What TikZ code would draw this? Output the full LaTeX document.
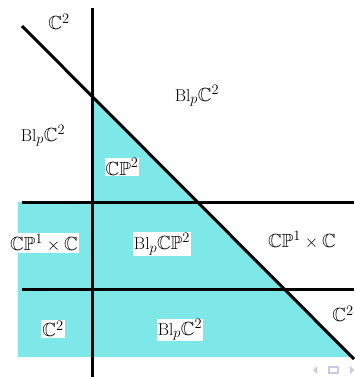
\documentclass[tikz,border=0pt]{standalone}
\usepackage{amssymb}
\usetikzlibrary{positioning}
\definecolor{chamber}{RGB}{126,232,232}
\definecolor{navgray}{RGB}{200,202,228}

\begin{document}
\begin{tikzpicture}[
    x=1pt, y=-1pt,
    wall/.style={line width=3pt},
    piece/.style={fill=white, inner sep=1pt, font=\fontsize{19}{23}\selectfont},
    nav/.style={fill=navgray, draw=none}
]
\useasboundingbox (0,0) rectangle (354,377);

% Corners of the lines
\coordinate (vtop) at (92,8);
\coordinate (vbot) at (92,377);
\coordinate (dtop) at (22,26);
\coordinate (dbot) at (354,359);
\coordinate (h1l) at (22,202);
\coordinate (h1r) at (354,202);
\coordinate (h2l) at (22,289);
\coordinate (h2r) at (354,289);

% Shaded region
\fill[chamber] (18,202) -- (92,202) -- (92,96) -- (352,357) -- (18,357) -- cycle;

% Lines
\draw[wall] (vtop) -- (vbot);
\draw[wall] (dtop) -- (dbot);
\draw[wall] (h1l) -- (h1r);
\draw[wall] (h2l) -- (h2r);

% Labels
\node[piece] (c2top) at (59,22) {$\mathbb{C}^2$};
\node[piece] (blup) at (197,96) {$\mathrm{Bl}_p\mathbb{C}^2$};
\node[piece] (blleft) at (43,136) {$\mathrm{Bl}_p\mathbb{C}^2$};
\node[piece] (cp2) at (122,167) {$\mathbb{CP}^2$};
\node[piece] (cp1left) at (44,243) {$\mathbb{CP}^1\times\mathbb{C}$};
\node[piece] (blcp2) at (162,244) {$\mathrm{Bl}_p\mathbb{CP}^2$};
\node[piece] (cp1right) at (302,240) {$\mathbb{CP}^1\times\mathbb{C}$};
\node[piece] (c2low) at (53,329) {$\mathbb{C}^2$};
\node[piece] (bllow) at (180,330) {$\mathrm{Bl}_p\mathbb{C}^2$};
\node[piece] (c2right) at (343,314) {$\mathbb{C}^2$};

% Navigation marks
\fill[nav] (313,370) -- (317,366) -- (317,374) -- cycle;
\draw[navgray, line width=1.2pt] (329,367) rectangle (338,373);
\fill[nav] (354,370) -- (350,366) -- (350,374) -- cycle;

\end{tikzpicture}
\end{document}
